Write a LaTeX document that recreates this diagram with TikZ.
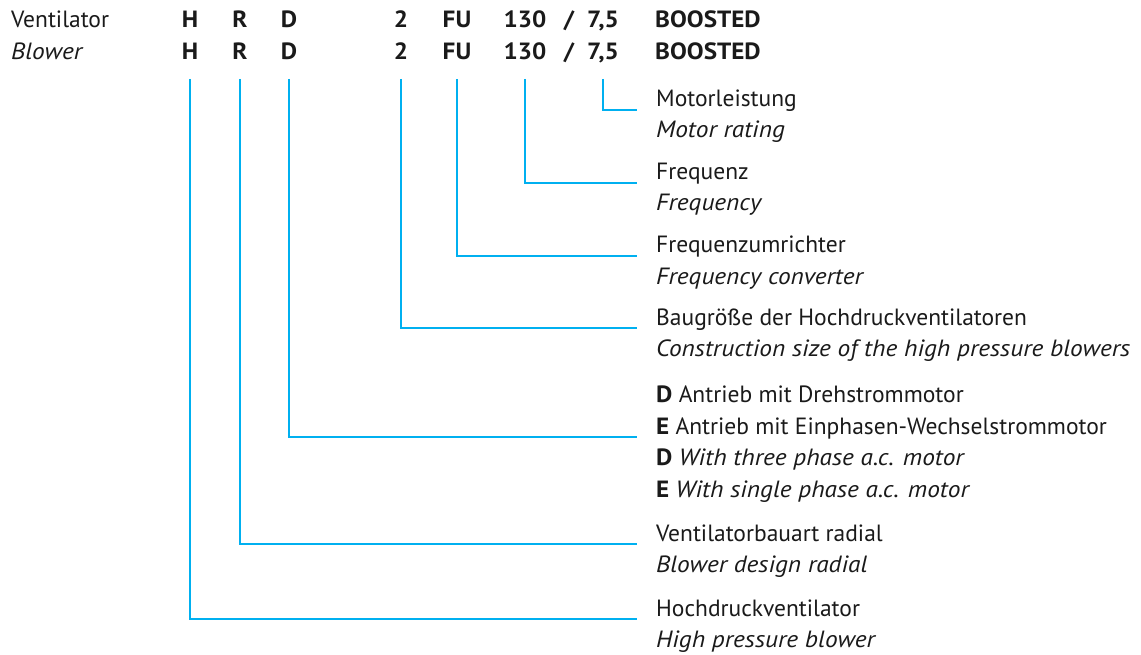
\documentclass[tikz,border=0pt]{standalone}
\usepackage{fontspec}
\setmainfont{PT Sans}[ItalicFeatures={FakeStretch=1.08}, BoldFeatures={FakeStretch=1.07}]
\usetikzlibrary{positioning}
\definecolor{leadblue}{HTML}{00B0F0}
\definecolor{txtgray}{HTML}{1A1A1A}

\begin{document}
\begin{tikzpicture}
[x=1pt, y=-1pt, font=\fontsize{23.5}{28}\selectfont, text=txtgray,
head/.style={anchor=base west, inner sep=0pt},
code/.style={anchor=base, inner sep=0pt, font=\fontsize{23.5}{28}\selectfont\bfseries},
desc/.style={anchor=base west, inner sep=0pt},
lead/.style={draw=leadblue, line width=2.5pt}]

\useasboundingbox (0,0) rectangle (1141,655);

% type code, German and English row
\node[head] (hde) at (11,28) {Ventilator};
\node[head] (hen) at (11,60) {\itshape Blower};

\foreach \k/\x/\t in {H/190/H, R/240/R, D/289/D, 2/401/2, FU/457/FU, 130/525/130, sl/569/{/}, 75/603/{7,5}} {
  \node[code] (a\k) at (\x,28) {\t};
  \node[code] (b\k) at (\x,60) {\t};
}
\node[code, anchor=base west] (aB) at (655,28) {BOOSTED};
\node[code, anchor=base west] (bB) at (655,60) {BOOSTED};

% explanations
\node[desc] (dM1) at (656,107) {Motorleistung};
\node[desc] (dM2) at (656,138) {\itshape Motor rating};
\node[desc] (dF1) at (656,180) {Frequenz};
\node[desc] (dF2) at (656,211) {\itshape Frequency};
\node[desc] (dU1) at (656,253) {Frequenzumrichter};
\node[desc] (dU2) at (656,284) {\itshape Frequency converter};
\node[desc] (dG1) at (656,325) {Baugröße der Hochdruckventilatoren};
\node[desc] (dG2) at (656,356) {\itshape Construction size of the high pressure blowers};
\node[desc] (dA1) at (656,402) {\textbf{D} Antrieb mit Drehstrommotor};
\node[desc] (dA2) at (656,434) {\textbf{E} Antrieb mit Einphasen-Wechselstrommotor};
\node[desc] (dA3) at (656,465) {\textbf{D} \itshape With three phase a.c. motor};
\node[desc] (dA4) at (656,497) {\textbf{E} \itshape With single phase a.c. motor};
\node[desc] (dR1) at (656,541) {Ventilatorbauart radial};
\node[desc] (dR2) at (656,572) {\itshape Blower design radial};
\node[desc] (dH1) at (656,616) {Hochdruckventilator};
\node[desc] (dH2) at (656,647) {\itshape High pressure blower};

% leader lines
\foreach \k/\d in {75/dM1, 130/dF1, FU/dU1, 2/dG1, D/dA2, R/dR1, H/dH1}
  \draw[lead] ([yshift=-19pt]b\k.base) |- ([xshift=-19pt,yshift=-3pt]\d.base west);
\end{tikzpicture}
\end{document}
